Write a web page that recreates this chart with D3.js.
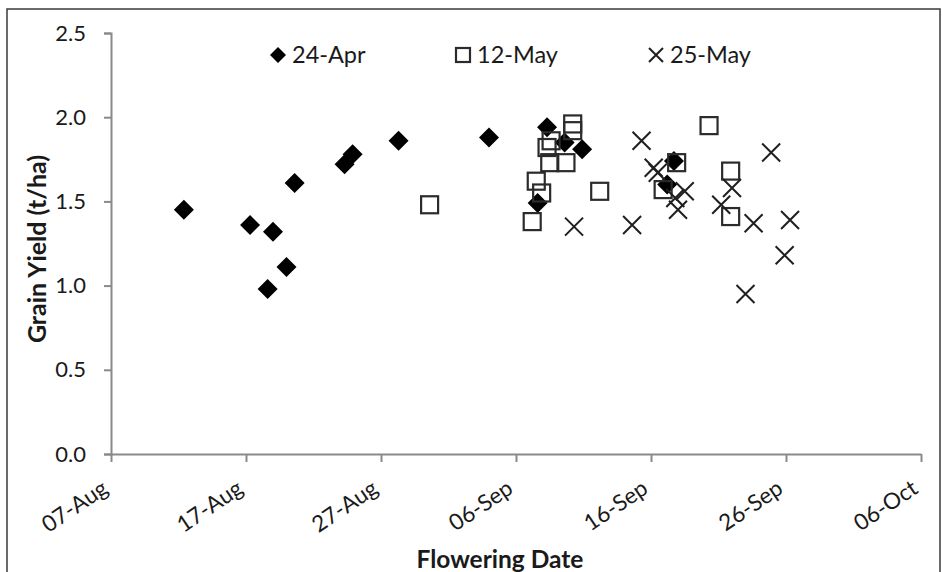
<!DOCTYPE html>
<html>
<head>
<meta charset="utf-8">
<script src="https://cdn.jsdelivr.net/npm/d3@7"></script>
<style>
  html, body { margin: 0; padding: 0; background: #fff; }
  svg { display: block; }
  text { font-family: Lato, "Open Sans", "Liberation Sans", sans-serif; fill: #1a1a1a; }
</style>
</head>
<body>
<svg id="chart" width="942" height="572"></svg>
<script>
// Flowering date is stored as day of year (07-Aug = day 219); yield in t/ha.
const seriesNames = ["24-Apr", "12-May", "25-May"];

const aprDay   = [224.4, 229.3, 231.0, 232.0, 230.6, 232.6, 236.3, 236.9, 240.3, 247.0, 251.3, 252.6, 253.9, 250.6, 260.7, 260.2];
const aprYield = [1.45, 1.36, 1.32, 1.11, 0.98, 1.61, 1.72, 1.78, 1.86, 1.88, 1.94, 1.85, 1.81, 1.49, 1.74, 1.60];

const mayADay   = [242.6, 253.2, 253.2, 251.3, 251.6, 251.5, 252.7, 250.5, 250.9, 250.2, 255.2, 263.3, 260.9, 259.9, 264.9, 264.9];
const mayAYield = [1.48, 1.96, 1.92, 1.82, 1.86, 1.73, 1.73, 1.62, 1.55, 1.38, 1.56, 1.95, 1.73, 1.57, 1.68, 1.41];

const mayBDay   = [253.3, 257.6, 258.3, 259.2, 259.5, 260.8, 261.0, 261.5, 264.2, 265.0, 266.0, 266.6, 267.9, 268.9, 269.3];
const mayBYield = [1.35, 1.36, 1.86, 1.70, 1.67, 1.52, 1.45, 1.56, 1.48, 1.58, 0.95, 1.37, 1.79, 1.18, 1.39];

const xTickDays   = [219, 229, 239, 249, 259, 269, 279];
const xTickLabels = ["07-Aug", "17-Aug", "27-Aug", "06-Sep", "16-Sep", "26-Sep", "06-Oct"];
const yTicks      = [0, 0.5, 1.0, 1.5, 2.0, 2.5];

const svg = d3.select("#chart");
const fontStack = "Lato, 'Open Sans', sans-serif";

// outer frame
svg.append("rect")
  .attr("x", 7).attr("y", 9).attr("width", 933).attr("height", 600)
  .attr("fill", "none").attr("stroke", "#3a3a3a").attr("stroke-width", 1.5);

const x = d3.scaleLinear().domain([219, 279]).range([111, 921]);
const y = d3.scaleLinear().domain([0, 2.5]).range([454, 33]);

const axisColor = "#8a8a8a";

// y axis
const yAxis = svg.append("g")
  .attr("transform", `translate(${x(219)},0)`)
  .call(d3.axisLeft(y).tickValues(yTicks).tickFormat(d3.format(".1f")).tickSize(7).tickPadding(18));
yAxis.select(".domain").attr("stroke", axisColor).attr("stroke-width", 2);
yAxis.selectAll(".tick line").attr("stroke", axisColor).attr("stroke-width", 2);
yAxis.selectAll(".tick text")
  .attr("font-size", 22).attr("fill", "#1a1a1a")
  .style("font-family", fontStack);

// x axis, labels slanted upward to the tick
const xAxis = svg.append("g")
  .attr("transform", `translate(0,${y(0)})`)
  .call(d3.axisBottom(x).tickValues(xTickDays).tickFormat((d, i) => xTickLabels[i]).tickSize(8).tickSizeOuter(0));
xAxis.select(".domain").attr("stroke", axisColor).attr("stroke-width", 2);
xAxis.selectAll(".tick line").attr("stroke", axisColor).attr("stroke-width", 2);
xAxis.selectAll(".tick text")
  .attr("font-size", 22.5).attr("fill", "#1a1a1a")
  .style("font-family", fontStack)
  .attr("text-anchor", "end")
  .attr("dy", null)
  .attr("y", 0)
  .attr("transform", "translate(-2,38) rotate(-34)");

// axis titles
svg.append("text")
  .attr("transform", "translate(46,249) rotate(-90)")
  .attr("text-anchor", "middle")
  .attr("font-size", 25).attr("font-weight", "bold")
  .style("font-family", fontStack)
  .text("Grain Yield (t/ha)");

svg.append("text")
  .attr("x", 500).attr("y", 568)
  .attr("text-anchor", "middle")
  .attr("font-size", 24.5).attr("font-weight", "bold")
  .style("font-family", fontStack)
  .text("Flowering Date");

// marker drawers
const diamond = (g, cx, cy, r) => g.append("path")
  .attr("d", `M${cx},${cy - r}L${cx + r},${cy}L${cx},${cy + r}L${cx - r},${cy}Z`)
  .attr("fill", "#000");
const square = (g, cx, cy, s) => g.append("rect")
  .attr("x", cx - s / 2).attr("y", cy - s / 2).attr("width", s).attr("height", s)
  .attr("fill", "none").attr("stroke", "#2b2b2b").attr("stroke-width", 2.2);
const cross = (g, cx, cy, s) => g.append("path")
  .attr("d", `M${cx - s},${cy - s}L${cx + s},${cy + s}M${cx - s},${cy + s}L${cx + s},${cy - s}`)
  .attr("fill", "none").attr("stroke", "#1f1f1f").attr("stroke-width", 2);

const plot = svg.append("g");
aprDay.forEach((d, i) => diamond(plot, x(d), y(aprYield[i]), 10));
mayADay.forEach((d, i) => square(plot, x(d), y(mayAYield[i]), 17));
mayBDay.forEach((d, i) => cross(plot, x(d), y(mayBYield[i]), 9));

// legend
const legend = svg.append("g");
const legendX = [278, 463, 656];
const legendY = 55;
diamond(legend, legendX[0], legendY, 8);
square(legend, legendX[1], legendY, 14);
cross(legend, legendX[2], legendY, 7);
seriesNames.forEach((name, i) => {
  legend.append("text")
    .attr("x", legendX[i] + 14).attr("y", legendY + 8)
    .attr("font-size", 23.5)
    .style("font-family", fontStack)
    .text(name);
});
</script>
</body>
</html>
